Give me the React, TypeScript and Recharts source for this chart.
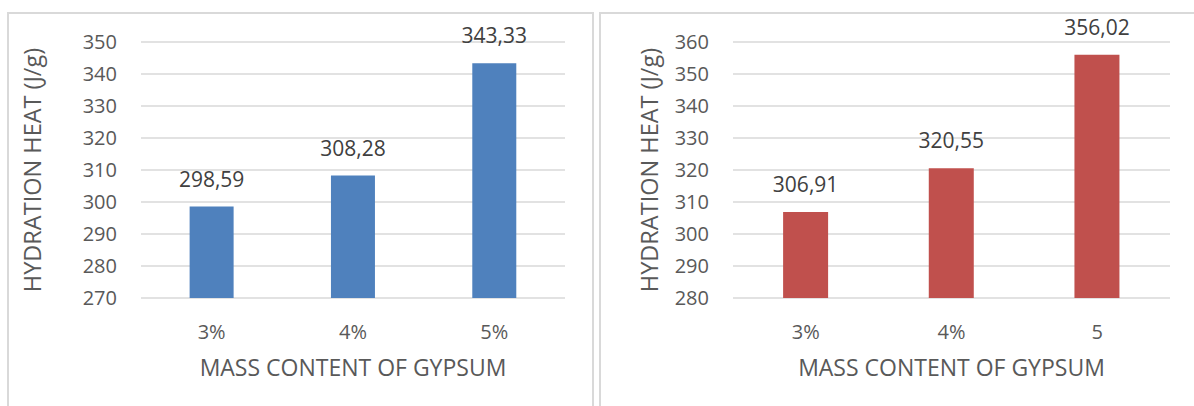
import React from 'react';
import { BarChart, Bar, XAxis, YAxis, CartesianGrid, LabelList, Label } from 'recharts';

const leftCategories = ['3%', '4%', '5%'];
const leftValues = [298.59, 308.28, 343.33];
const leftTicks = [270, 280, 290, 300, 310, 320, 330, 340, 350];

const rightCategories = ['3%', '4%', '5'];
const rightValues = [306.91, 320.55, 356.02];
const rightTicks = [280, 290, 300, 310, 320, 330, 340, 350, 360];

const yTitle = 'HYDRATION HEAT (J/g)';
const xTitle = 'MASS CONTENT OF GYPSUM';

const FONT = "'Open Sans', 'Noto Sans', sans-serif";
const AXIS_TEXT = '#595959';
const LABEL_TEXT = '#404040';
const GRID = '#D9D9D9';

const fmt = (v: any) => Number(v).toFixed(2).replace('.', ',');

type PanelProps = {
  categories: string[];
  values: number[];
  ticks: number[];
  color: string;
  yAxisWidth: number;
  rightMargin: number;
  titleOffset: number;
};

function Panel({ categories, values, ticks, color, yAxisWidth, rightMargin, titleOffset }: PanelProps) {
  const data = categories.map((c, i) => ({ cat: c, value: values[i] }));
  return (
    <BarChart
      width={594}
      height={406}
      data={data}
      margin={{ top: 42, right: rightMargin, bottom: 28, left: 0 }}
      barCategoryGap="34.4%"
    >
      <CartesianGrid vertical={false} stroke={GRID} strokeWidth={1.5} />
      <XAxis
        dataKey="cat"
        axisLine={false}
        tickLine={false}
        tickSize={0}
        tickMargin={27}
        height={80}
        tick={{ fill: AXIS_TEXT, fontSize: 20, fontFamily: FONT }}
        interval={0}
      >
        <Label
          value={xTitle}
          position="insideBottom"
          offset={2}
          style={{ fill: AXIS_TEXT, fontSize: 23, fontFamily: FONT }}
        />
      </XAxis>
      <YAxis
        domain={[ticks[0], ticks[ticks.length - 1]]}
        ticks={ticks}
        interval={0}
        axisLine={false}
        tickLine={false}
        tickSize={0}
        tickMargin={24}
        width={yAxisWidth}
        tick={{ fill: AXIS_TEXT, fontSize: 20, fontFamily: FONT }}
        allowDataOverflow
      >
        <Label
          value={yTitle}
          angle={-90}
          position="insideLeft"
          offset={titleOffset}
          dx={0}
          style={{ fill: AXIS_TEXT, fontSize: 23.5, fontFamily: FONT, textAnchor: 'middle' }}
        />
      </YAxis>
      <Bar dataKey="value" fill={color} isAnimationActive={false}>
        <LabelList
          dataKey="value"
          position="top"
          offset={20}
          formatter={fmt}
          style={{ fill: LABEL_TEXT, fontSize: 21, fontFamily: FONT }}
        />
      </Bar>
    </BarChart>
  );
}

export default function App() {
  return (
    <div
      style={{
        position: 'absolute',
        left: 0,
        top: 0,
        width: 1194,
        height: 406,
        overflow: 'hidden',
        background: '#ffffff',
        fontFamily: FONT,
      }}
    >
      <div
        style={{
          position: 'absolute',
          left: 7,
          top: 12,
          width: 587,
          height: 430,
          boxSizing: 'border-box',
          border: `2px solid ${GRID}`,
        }}
      />
      <div
        style={{
          position: 'absolute',
          left: 599,
          top: 12,
          width: 640,
          height: 430,
          boxSizing: 'border-box',
          border: `2px solid ${GRID}`,
        }}
      />
      <div style={{ position: 'absolute', left: 0, top: 0 }}>
        <Panel
          categories={leftCategories}
          values={leftValues}
          ticks={leftTicks}
          color="#4F81BD"
          yAxisWidth={141}
          rightMargin={29}
          titleOffset={33}
        />
      </div>
      <div style={{ position: 'absolute', left: 600, top: 0 }}>
        <Panel
          categories={rightCategories}
          values={rightValues}
          ticks={rightTicks}
          color="#C0504D"
          yAxisWidth={133}
          rightMargin={24}
          titleOffset={50}
        />
      </div>
    </div>
  );
}
